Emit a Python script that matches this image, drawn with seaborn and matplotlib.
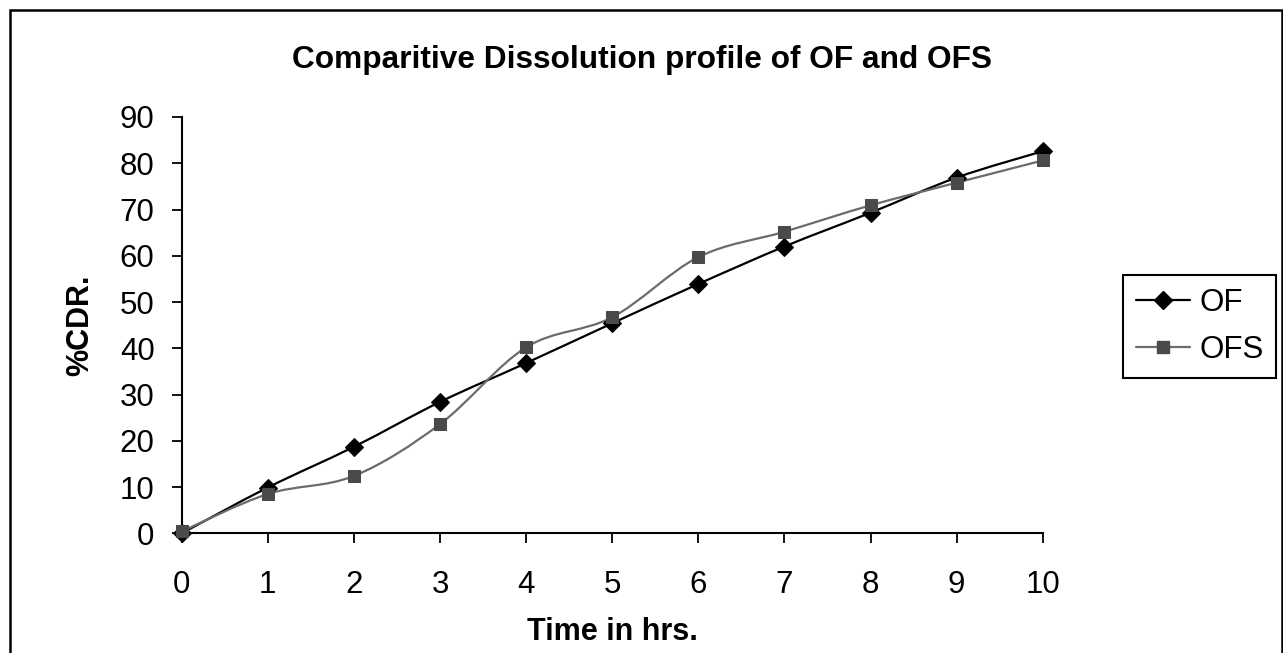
import numpy as np
import pandas as pd
import matplotlib
matplotlib.use("Agg")
import matplotlib.pyplot as plt
from matplotlib.path import Path
from matplotlib.patches import PathPatch, Rectangle
from matplotlib.lines import Line2D
import seaborn as sns

# ---- data ----
hours = [0, 1, 2, 3, 4, 5, 6, 7, 8, 9, 10]
of_vals = [0.0, 9.9, 18.7, 28.4, 36.8, 45.4, 53.9, 62.0, 69.3, 76.9, 82.6]
ofs_vals = [0.4, 8.5, 12.4, 23.6, 40.2, 46.7, 59.7, 65.2, 70.9, 75.8, 80.6]
series_names = ["OF", "OFS"]
y_ticks = [0, 10, 20, 30, 40, 50, 60, 70, 80, 90]
title_text = "Comparitive Dissolution profile of OF and OFS"
x_label = "Time in hrs."
y_label = "%CDR."

sns.set_theme(style="white")
plt.rcParams["font.family"] = ["Liberation Sans", "DejaVu Sans"]
plt.rcParams["text.color"] = "black"
plt.rcParams["axes.labelcolor"] = "black"
plt.rcParams["xtick.color"] = "black"
plt.rcParams["ytick.color"] = "black"

W, H = 1283, 653
fig = plt.figure(figsize=(W / 100, H / 100), dpi=100)
ax = fig.add_axes([181.7 / W, 1 - 533.3 / H, (1042.7 - 181.7) / W, (533.3 - 117.0) / H])

df = pd.DataFrame({
    "hours": hours * 2,
    "value": of_vals + ofs_vals,
    "series": [series_names[0]] * len(hours) + [series_names[1]] * len(hours),
})

styles = {
    "OF": dict(line="#000000", marker="D", mcolor="#000000", ms=9.5, lw=1.6),
    "OFS": dict(line="#6b6b6b", marker="s", mcolor="#4a4a4a", ms=8.5, lw=1.6),
}


def smooth_path(xs, ys):
    # Excel-like smoothed line rendered as cubic Bezier segments
    pts = np.column_stack([xs, ys]).astype(float)
    n = len(pts)
    verts = [pts[0]]
    codes = [Path.MOVETO]
    for i in range(n - 1):
        p0 = pts[i - 1] if i > 0 else pts[i]
        p1 = pts[i]
        p2 = pts[i + 1]
        p3 = pts[i + 2] if i + 2 < n else pts[i + 1]
        c1 = p1 + (p2 - p0) / 6.0
        c2 = p2 - (p3 - p1) / 6.0
        verts += [c1, c2, p2]
        codes += [Path.CURVE4] * 3
    return Path(verts, codes)


handles = []
for name in series_names:
    st = styles[name]
    sub = df[df["series"] == name]
    patch = PathPatch(smooth_path(sub["hours"].values, sub["value"].values),
                      facecolor="none", edgecolor=st["line"], lw=st["lw"],
                      zorder=2, transform=ax.transData, clip_on=False)
    ax.add_patch(patch)
    sns.lineplot(data=sub, x="hours", y="value", ax=ax, marker=st["marker"],
                 markersize=st["ms"], color=st["mcolor"], markeredgecolor=st["mcolor"],
                 linestyle="none", zorder=3, legend=False, clip_on=False)
    handles.append(Line2D([], [], color=st["line"], lw=st["lw"], marker=st["marker"],
                          markersize=st["ms"], markerfacecolor=st["mcolor"],
                          markeredgecolor=st["mcolor"]))

ax.set_xlim(0, 10)
ax.set_ylim(0, 90)
ax.set_xticks(hours)
ax.set_yticks(y_ticks)
ax.tick_params(axis="both", which="both", direction="out", length=7.5, width=1.3,
               colors="black", labelsize=22.5, bottom=True, left=True,
               top=False, right=False)
ax.tick_params(axis="x", pad=19)
ax.tick_params(axis="y", pad=12)
for side in ["top", "right"]:
    ax.spines[side].set_visible(False)
for side in ["left", "bottom"]:
    ax.spines[side].set_color("black")
    ax.spines[side].set_linewidth(1.5)
ax.grid(False)
ax.set_xlabel("")
ax.set_ylabel("")

fig.text(612 / W, 1 - 632 / H, x_label, ha="center", va="center",
         fontsize=22, fontweight="bold", color="black")
fig.text(80 / W, 1 - 325 / H, y_label, ha="center", va="center", rotation=90,
         fontsize=22, fontweight="bold", color="black")
fig.text(641.5 / W, 1 - 60 / H, title_text, ha="center", va="center",
         fontsize=22.8, fontweight="bold", color="black")

leg = fig.legend(handles, series_names, loc="center left",
                 bbox_to_anchor=(1123 / W, 1 - 326.5 / H), fontsize=22.5,
                 frameon=True, fancybox=False, framealpha=1, edgecolor="black",
                 borderpad=0.4, handlelength=1.75, handletextpad=0.3,
                 labelspacing=0.55, borderaxespad=0)
leg.get_frame().set_linewidth(1.5)
for t in leg.get_texts():
    t.set_color("black")

# outer chart border (bottom edge lies beyond the image, as in the reference)
fig.patches.append(Rectangle((9.5 / W, -10 / H), (1282 - 9.5) / W, (653 + 10 - 9.5) / H,
                             transform=fig.transFigure, fill=False, edgecolor="black",
                             lw=1.8))

fig.savefig("out.png", dpi=100)
